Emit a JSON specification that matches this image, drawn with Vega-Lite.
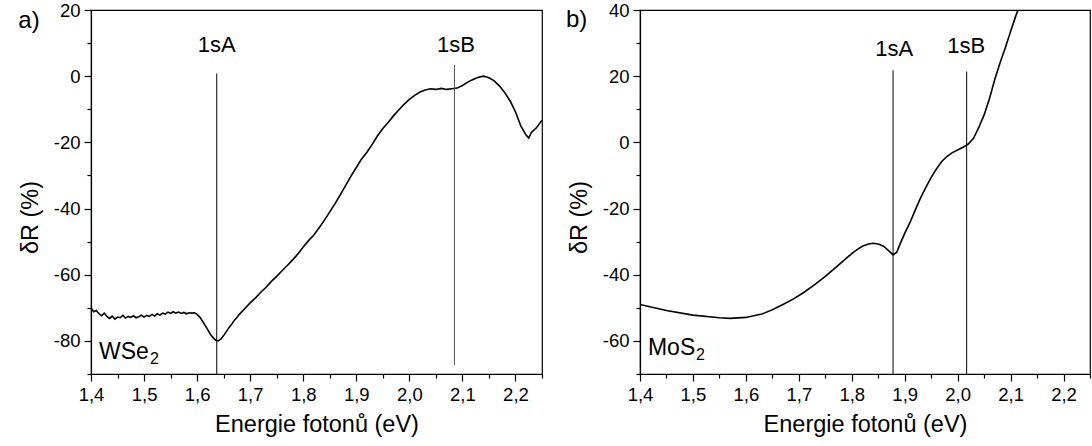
{
  "$schema": "https://vega.github.io/schema/vega-lite/v6.json",
  "background": "white",
  "padding": {"left": 17, "top": 0, "right": 0, "bottom": 0},
  "bounds": "flush",
  "spacing": 98,
  "config": {
    "font": "Liberation Sans",
    "view": {"stroke": "black", "strokeWidth": 1.2},
    "axis": {"domainColor": "black", "tickColor": "black", "labelColor": "black", "titleColor": "black", "labelFontSize": 18.5, "titleFontSize": 23.5, "titleFontWeight": "normal", "grid": false, "domainWidth": 1.2, "tickWidth": 1.2, "labelFont": "Liberation Sans", "titleFont": "Liberation Sans", "labelFlush": false}
  },
  "datasets": {
    "wse2": [
      {"E":1.400,"R":-70.0},{"E":1.405,"R":-71.2},{"E":1.410,"R":-70.8},{"E":1.415,"R":-71.8},{"E":1.420,"R":-72.4},{"E":1.425,"R":-71.6},{"E":1.430,"R":-72.6},{"E":1.435,"R":-73.2},{"E":1.440,"R":-72.5},{"E":1.445,"R":-73.4},{"E":1.450,"R":-72.8},{"E":1.455,"R":-73.0},{"E":1.460,"R":-72.3},{"E":1.465,"R":-73.1},{"E":1.470,"R":-72.6},{"E":1.475,"R":-72.9},{"E":1.480,"R":-72.4},{"E":1.485,"R":-73.0},{"E":1.490,"R":-72.7},{"E":1.495,"R":-72.2},{"E":1.500,"R":-72.8},{"E":1.505,"R":-72.3},{"E":1.510,"R":-72.6},{"E":1.515,"R":-72.0},{"E":1.520,"R":-72.5},{"E":1.525,"R":-71.8},{"E":1.530,"R":-72.2},{"E":1.535,"R":-71.6},{"E":1.540,"R":-71.9},{"E":1.545,"R":-71.3},{"E":1.550,"R":-71.7},{"E":1.555,"R":-71.2},{"E":1.560,"R":-71.6},{"E":1.565,"R":-71.3},{"E":1.570,"R":-71.7},{"E":1.575,"R":-71.4},{"E":1.580,"R":-71.8},{"E":1.585,"R":-71.5},{"E":1.590,"R":-71.6},{"E":1.595,"R":-71.5},{"E":1.600,"R":-72.0},{"E":1.605,"R":-72.8},{"E":1.610,"R":-74.0},{"E":1.615,"R":-75.3},{"E":1.620,"R":-76.6},{"E":1.625,"R":-78.0},{"E":1.630,"R":-79.0},{"E":1.635,"R":-79.8},{"E":1.640,"R":-80.0},{"E":1.645,"R":-79.4},{"E":1.650,"R":-78.4},{"E":1.655,"R":-77.2},{"E":1.660,"R":-76.0},{"E":1.665,"R":-75.0},{"E":1.670,"R":-73.8},{"E":1.675,"R":-72.9},{"E":1.680,"R":-71.9},{"E":1.690,"R":-70.2},{"E":1.700,"R":-68.5},{"E":1.710,"R":-67.0},{"E":1.720,"R":-65.3},{"E":1.730,"R":-63.8},{"E":1.740,"R":-62.0},{"E":1.750,"R":-60.5},{"E":1.760,"R":-58.8},{"E":1.770,"R":-57.2},{"E":1.780,"R":-55.5},{"E":1.790,"R":-53.7},{"E":1.800,"R":-51.6},{"E":1.810,"R":-49.7},{"E":1.820,"R":-48.0},{"E":1.830,"R":-45.8},{"E":1.840,"R":-43.5},{"E":1.850,"R":-41.0},{"E":1.860,"R":-38.5},{"E":1.870,"R":-35.8},{"E":1.880,"R":-33.0},{"E":1.890,"R":-30.2},{"E":1.900,"R":-27.6},{"E":1.910,"R":-25.0},{"E":1.920,"R":-23.0},{"E":1.930,"R":-20.6},{"E":1.940,"R":-18.0},{"E":1.950,"R":-15.8},{"E":1.960,"R":-14.0},{"E":1.970,"R":-12.0},{"E":1.980,"R":-10.2},{"E":1.990,"R":-8.5},{"E":2.000,"R":-7.0},{"E":2.010,"R":-5.8},{"E":2.020,"R":-4.8},{"E":2.030,"R":-4.2},{"E":2.040,"R":-3.8},{"E":2.050,"R":-4.0},{"E":2.060,"R":-3.7},{"E":2.070,"R":-4.0},{"E":2.080,"R":-3.8},{"E":2.090,"R":-3.6},{"E":2.100,"R":-2.8},{"E":2.110,"R":-1.8},{"E":2.120,"R":-1.0},{"E":2.130,"R":-0.3},{"E":2.140,"R":0.0},{"E":2.150,"R":-0.5},{"E":2.160,"R":-1.4},{"E":2.170,"R":-3.0},{"E":2.180,"R":-5.0},{"E":2.190,"R":-7.5},{"E":2.200,"R":-10.8},{"E":2.210,"R":-15.0},{"E":2.220,"R":-17.8},{"E":2.225,"R":-18.7},{"E":2.230,"R":-17.0},{"E":2.240,"R":-15.5},{"E":2.250,"R":-13.3}
    ],
    "mos2": [
      {"E":1.40,"R":-49.0},{"E":1.45,"R":-50.8},{"E":1.50,"R":-52.2},{"E":1.55,"R":-53.0},{"E":1.57,"R":-53.2},{"E":1.60,"R":-52.9},{"E":1.63,"R":-51.9},{"E":1.65,"R":-50.6},{"E":1.67,"R":-49.0},{"E":1.69,"R":-47.3},{"E":1.71,"R":-45.3},{"E":1.73,"R":-43.0},{"E":1.75,"R":-40.5},{"E":1.77,"R":-37.8},{"E":1.79,"R":-35.0},{"E":1.80,"R":-33.6},{"E":1.81,"R":-32.4},{"E":1.82,"R":-31.4},{"E":1.83,"R":-30.8},{"E":1.84,"R":-30.5},{"E":1.85,"R":-30.7},{"E":1.86,"R":-31.4},{"E":1.87,"R":-32.8},{"E":1.878,"R":-34.0},{"E":1.885,"R":-33.2},{"E":1.89,"R":-31.2},{"E":1.90,"R":-27.5},{"E":1.91,"R":-24.2},{"E":1.92,"R":-20.4},{"E":1.93,"R":-16.8},{"E":1.94,"R":-13.6},{"E":1.95,"R":-10.6},{"E":1.96,"R":-8.0},{"E":1.97,"R":-5.8},{"E":1.98,"R":-4.2},{"E":1.99,"R":-3.1},{"E":2.00,"R":-2.3},{"E":2.01,"R":-1.5},{"E":2.02,"R":-0.5},{"E":2.03,"R":1.2},{"E":2.04,"R":4.5},{"E":2.05,"R":8.3},{"E":2.06,"R":13.2},{"E":2.07,"R":18.9},{"E":2.08,"R":24.0},{"E":2.09,"R":28.6},{"E":2.10,"R":33.5},{"E":2.11,"R":38.3},{"E":2.12,"R":42.5}
    ],
    "wse2_marks": [
      {"label":"1sA","E":1.637,"top":0.8,"bottom":-90,"ty":9.4,"tx":1.637},
      {"label":"1sB","E":2.085,"top":3.4,"bottom":-87.3,"ty":9.4,"tx":2.088}
    ],
    "mos2_marks": [
      {"label":"1sA","E":1.878,"top":21.8,"bottom":-70,"ty":28.3,"tx":1.88},
      {"label":"1sB","E":2.017,"top":21.4,"bottom":-70,"ty":29.2,"tx":2.016}
    ],
    "wse2_tag": [{"text":"a)","E":1.263,"R":16.7}],
    "mos2_tag": [{"text":"b)","E":1.26,"R":37}],
    "wse2_name": [{"text":"WSe","sub":"2","E":1.415,"R":-83.3}],
    "mos2_name": [{"text":"MoS","sub":"2","E":1.415,"R":-62.1}]
  },
  "hconcat": [
    {
      "width": 451, "height": 364,
      "resolve": {"axis": {"x": "independent", "y": "independent"}},
      "layer": [
        {
          "data": {"name": "wse2"},
          "mark": {"type": "line", "color": "black", "strokeWidth": 1.6, "clip": true},
          "encoding": {
            "x": {"field": "E", "type": "quantitative", "scale": {"domain": [1.4, 2.25], "nice": false, "zero": false},
                  "axis": {"orient": "bottom", "values": [1.4,1.5,1.6,1.7,1.8,1.9,2.0,2.1,2.2], "labelExpr": "replace(format(datum.value,'.1f'),'.',',')", "tickSize": 7, "labelPadding": 4, "title": "Energie fotonů (eV)", "titlePadding": 9}},
            "y": {"field": "R", "type": "quantitative", "scale": {"domain": [-90, 20], "nice": false, "zero": false},
                  "axis": {"orient": "left", "values": [-80,-60,-40,-20,0,20], "labelExpr": "toString(datum.value)", "tickSize": 7, "labelPadding": 4, "title": "δR (%)", "titleX": -61, "titleY": 207, "titleAngle": -90, "titleAlign": "center", "titleBaseline": "middle"}}
          }
        },
        {
          "data": {"name": "wse2_marks"},
          "mark": {"type": "rule", "strokeWidth": 1},
          "encoding": {
            "x": {"field": "E", "type": "quantitative", "scale": {"domain": [1.4, 2.25], "nice": false, "zero": false},
                  "axis": {"orient": "bottom", "values": [1.45,1.55,1.65,1.75,1.85,1.95,2.05,2.15,2.25], "labels": false, "domain": false, "tickSize": 4, "title": null}},
            "y": {"field": "top", "type": "quantitative", "scale": {"domain": [-90, 20], "nice": false, "zero": false},
                  "axis": {"orient": "left", "values": [-90,-70,-50,-30,-10,10], "labels": false, "domain": false, "tickSize": 4, "title": null}},
            "y2": {"field": "bottom"},
            "color": {"field": "label", "type": "nominal", "scale": {"domain": ["1sA","1sB"], "range": ["black", "#555555"]}, "legend": null}
          }
        },
        {
          "data": {"name": "wse2_marks"},
          "mark": {"type": "text", "fontSize": 22, "align": "center", "baseline": "middle", "color": "black"},
          "encoding": {
            "x": {"field": "tx", "type": "quantitative", "scale": {"domain": [1.4, 2.25], "nice": false, "zero": false}, "axis": null},
            "y": {"field": "ty", "type": "quantitative", "scale": {"domain": [-90, 20], "nice": false, "zero": false}, "axis": null},
            "text": {"field": "label"}
          }
        },
        {
          "data": {"name": "wse2_tag"},
          "mark": {"type": "text", "fontSize": 24, "align": "left", "baseline": "middle", "color": "black"},
          "encoding": {
            "x": {"field": "E", "type": "quantitative", "scale": {"domain": [1.4, 2.25], "nice": false, "zero": false}, "axis": null},
            "y": {"field": "R", "type": "quantitative", "scale": {"domain": [-90, 20], "nice": false, "zero": false}, "axis": null},
            "text": {"field": "text"}
          }
        },
        {
          "data": {"name": "wse2_name"},
          "mark": {"type": "text", "fontSize": 23, "align": "left", "baseline": "middle", "color": "black"},
          "encoding": {
            "x": {"field": "E", "type": "quantitative", "scale": {"domain": [1.4, 2.25], "nice": false, "zero": false}, "axis": null},
            "y": {"field": "R", "type": "quantitative", "scale": {"domain": [-90, 20], "nice": false, "zero": false}, "axis": null},
            "text": {"field": "text"}
          }
        },
        {
          "data": {"name": "wse2_name"},
          "mark": {"type": "text", "fontSize": 16, "align": "left", "baseline": "middle", "color": "black", "dx": 51, "dy": 7},
          "encoding": {
            "x": {"field": "E", "type": "quantitative", "scale": {"domain": [1.4, 2.25], "nice": false, "zero": false}, "axis": null},
            "y": {"field": "R", "type": "quantitative", "scale": {"domain": [-90, 20], "nice": false, "zero": false}, "axis": null},
            "text": {"field": "sub"}
          }
        }
      ]
    },
    {
      "width": 450, "height": 364,
      "resolve": {"axis": {"x": "independent", "y": "independent"}},
      "layer": [
        {
          "data": {"name": "mos2"},
          "mark": {"type": "line", "color": "black", "strokeWidth": 1.6, "clip": true},
          "encoding": {
            "x": {"field": "E", "type": "quantitative", "scale": {"domain": [1.4, 2.25], "nice": false, "zero": false},
                  "axis": {"orient": "bottom", "values": [1.4,1.5,1.6,1.7,1.8,1.9,2.0,2.1,2.2], "labelExpr": "replace(format(datum.value,'.1f'),'.',',')", "tickSize": 7, "labelPadding": 4, "title": "Energie fotonů (eV)", "titlePadding": 9}},
            "y": {"field": "R", "type": "quantitative", "scale": {"domain": [-70, 40], "nice": false, "zero": false},
                  "axis": {"orient": "left", "values": [-60,-40,-20,0,20,40], "labelExpr": "toString(datum.value)", "tickSize": 7, "labelPadding": 4, "title": "δR (%)", "titleX": -61, "titleY": 207, "titleAngle": -90, "titleAlign": "center", "titleBaseline": "middle"}}
          }
        },
        {
          "data": {"name": "mos2_marks"},
          "mark": {"type": "rule", "strokeWidth": 1, "color": "black"},
          "encoding": {
            "x": {"field": "E", "type": "quantitative", "scale": {"domain": [1.4, 2.25], "nice": false, "zero": false},
                  "axis": {"orient": "bottom", "values": [1.45,1.55,1.65,1.75,1.85,1.95,2.05,2.15,2.25], "labels": false, "domain": false, "tickSize": 4, "title": null}},
            "y": {"field": "top", "type": "quantitative", "scale": {"domain": [-70, 40], "nice": false, "zero": false},
                  "axis": {"orient": "left", "values": [-70,-50,-30,-10,10,30], "labels": false, "domain": false, "tickSize": 4, "title": null}},
            "y2": {"field": "bottom"}
          }
        },
        {
          "data": {"name": "mos2_marks"},
          "mark": {"type": "text", "fontSize": 22, "align": "center", "baseline": "middle", "color": "black"},
          "encoding": {
            "x": {"field": "tx", "type": "quantitative", "scale": {"domain": [1.4, 2.25], "nice": false, "zero": false}, "axis": null},
            "y": {"field": "ty", "type": "quantitative", "scale": {"domain": [-70, 40], "nice": false, "zero": false}, "axis": null},
            "text": {"field": "label"}
          }
        },
        {
          "data": {"name": "mos2_tag"},
          "mark": {"type": "text", "fontSize": 24, "align": "left", "baseline": "middle", "color": "black"},
          "encoding": {
            "x": {"field": "E", "type": "quantitative", "scale": {"domain": [1.4, 2.25], "nice": false, "zero": false}, "axis": null},
            "y": {"field": "R", "type": "quantitative", "scale": {"domain": [-70, 40], "nice": false, "zero": false}, "axis": null},
            "text": {"field": "text"}
          }
        },
        {
          "data": {"name": "mos2_name"},
          "mark": {"type": "text", "fontSize": 23, "align": "left", "baseline": "middle", "color": "black"},
          "encoding": {
            "x": {"field": "E", "type": "quantitative", "scale": {"domain": [1.4, 2.25], "nice": false, "zero": false}, "axis": null},
            "y": {"field": "R", "type": "quantitative", "scale": {"domain": [-70, 40], "nice": false, "zero": false}, "axis": null},
            "text": {"field": "text"}
          }
        },
        {
          "data": {"name": "mos2_name"},
          "mark": {"type": "text", "fontSize": 16, "align": "left", "baseline": "middle", "color": "black", "dx": 48, "dy": 7},
          "encoding": {
            "x": {"field": "E", "type": "quantitative", "scale": {"domain": [1.4, 2.25], "nice": false, "zero": false}, "axis": null},
            "y": {"field": "R", "type": "quantitative", "scale": {"domain": [-70, 40], "nice": false, "zero": false}, "axis": null},
            "text": {"field": "sub"}
          }
        }
      ]
    }
  ]
}
